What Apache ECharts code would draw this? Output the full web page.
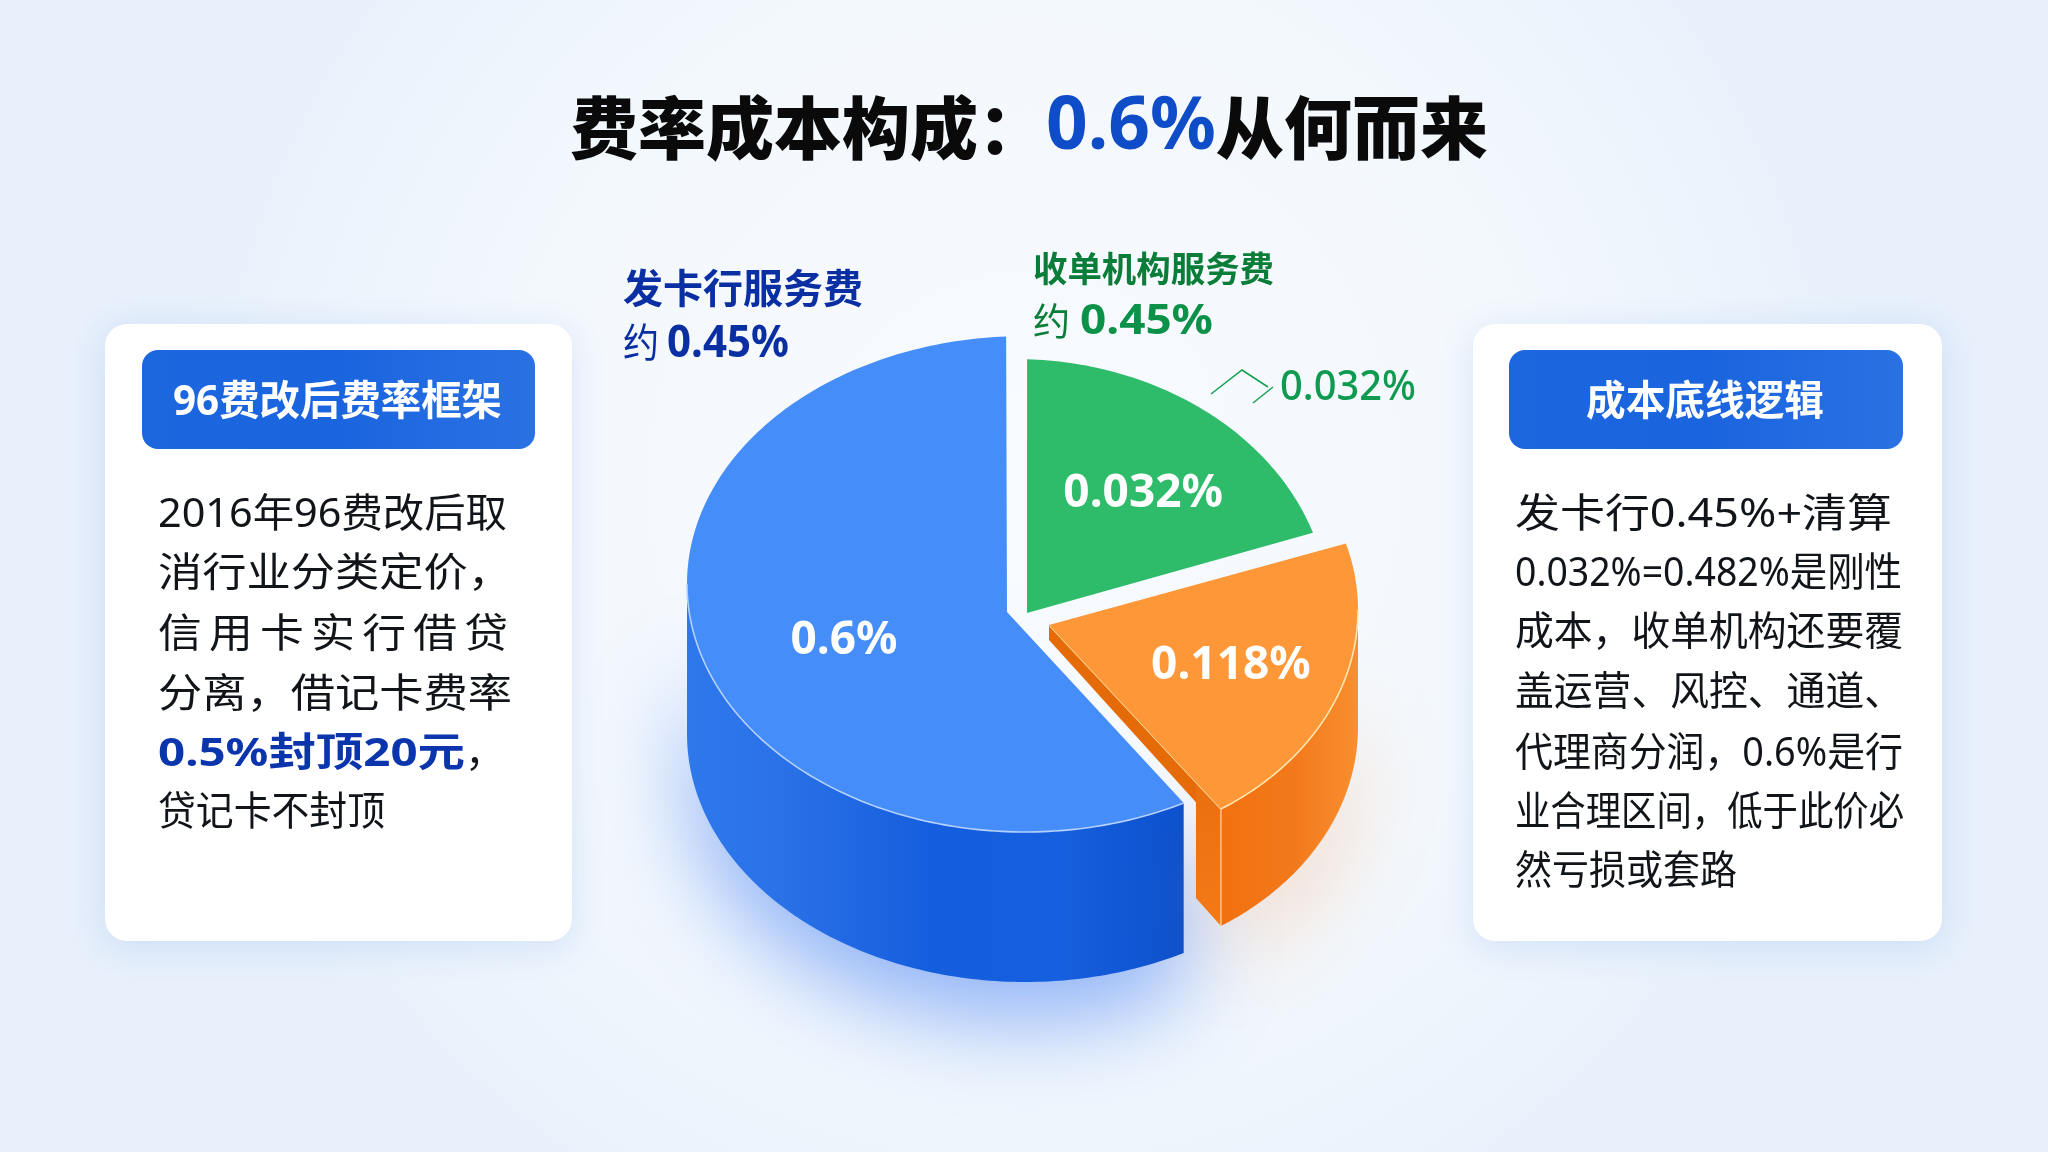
<!DOCTYPE html>
<html><head><meta charset="utf-8">
<style>html,body{margin:0;padding:0;background:#eef4fc}#c{width:2048px;height:1152px}</style>
<script src="https://cdn.jsdelivr.net/npm/echarts@6/dist/echarts.min.js"></script>
</head><body><div id="c"></div>
<script>
// ---- data ----
const categories = ['发卡行服务费', '收单机构服务费', '清算及其他'];
const sliceValues = [0.6, 0.032, 0.118];           // printed on the slices, in %
const sliceSweeps = [204.8, 69.4, 73.4];           // drawn size of each slice, degrees
const sliceGaps = [5.4, 2.1, 4.9];                 // drawn gap after each slice, degrees
const issuerLabel = ['发卡行服务费', '约', '0.45%'];
const acquirerLabel = ['收单机构服务费', '约', '0.45%'];
const calloutLabel = '0.032%';
const leftHeader = '96费改后费率框架';
const rightHeader = '成本底线逻辑';
const leftLines = ['2016年96费改后取', '消行业分类定价，', '信\u2009用\u2009卡\u2009实\u2009行\u2009借\u2009贷', '分离，借记卡费率', '0.5%封顶20元', '贷记卡不封顶'];
const rightLines = ['发卡行0.45%+清算', '0.032%=0.482%是刚性', '成本，收单机构还要覆', '盖运营、风控、通道、', '代理商分润，0.6%是行', '业合理区间，低于此价必', '然亏损或套路'];

// ---- layout ----
const FONT = '"Noto Sans","Noto Sans CJK SC",sans-serif';
const BASE_ANGLE = 152;
const geo = [
  {cx:1025,cy:584,rx:338,ry:248,ax:1007,ay:612,depth:150,top:'#458df9',f:0.556,ldy:20,rim:'#b4d0fd'},
  {cx:1015,cy:613,rx:314,ry:254,ax:1027,ay:613,depth:0,top:'#2fbc6a',f:0.68,ldy:19},
  {cx:1058,cy:610,rx:300,ry:237,ax:1049,ay:625,depth:117,top:'#fd9737',f:0.615,ldy:5,rim:'#ffe6ae'}
];
const sideFill = [
  new echarts.graphic.LinearGradient(0,0,1,0,[{offset:0,color:'#2f78ec'},{offset:.2,color:'#2a71e7'},{offset:.5,color:'#145ddd'},{offset:.75,color:'#165fde'},{offset:1,color:'#0b50cd'}]),
  null,
  new echarts.graphic.LinearGradient(0,0,1,0,[{offset:0,color:'#f2700f'},{offset:.55,color:'#f27a1c'},{offset:1,color:'#f98f30'}])
];
const sideShadow = ['rgba(45,110,240,.5)', null, 'rgba(240,130,50,.25)'];

const starts = [];
sliceSweeps.reduce((a, s, i) => { starts[i] = a % 360; return a + s + sliceGaps[i]; }, BASE_ANGLE);

function onEllipse(g, deg, dy) {
  const r = deg * Math.PI / 180;
  return [g.cx + g.rx * Math.sin(r), g.cy - g.ry * Math.cos(r) + (dy || 0)];
}
function arc(g, a0, a1, dy) {
  const pts = [], n = Math.max(2, Math.ceil(Math.abs(a1 - a0)));
  for (let k = 0; k <= n; k++) pts.push(onEllipse(g, a0 + (a1 - a0) * k / n, dy));
  return pts;
}
function renderSlice(params, api) {
  const i = params.dataIndex, g = geo[i];
  const sweep = api.value(1), val = api.value(2);
  const a0 = starts[i], a1 = a0 + sweep, kids = [];
  // extruded outer wall: only the part of the rim that faces the viewer
  const s0 = Math.max(a0, 90), s1 = Math.min(a1, 270);
  if (g.depth && s1 > s0) {
    const up = arc(g, s0, s1), down = arc(g, s1, s0, g.depth);
    kids.push({type:'polygon', shape:{points:up.concat(down)},
      style:{fill:sideFill[i], shadowBlur:90, shadowOffsetY:40, shadowColor:sideShadow[i]}});
  }
  const arcPts = arc(g, a0, a1);
  if (i === 2) { // orange inner wall seen through the gap
    const B = arcPts[arcPts.length - 1], A = [g.ax, g.ay];
    const cut = B[0] - 25, yOn = A[1] + (B[1] - A[1]) * (cut - A[0]) / (B[0] - A[0]);
    kids.push({type:'polygon', shape:{points:[A, B, [cut, yOn + 20], [A[0], A[1] + 15]]}, style:{fill:'#e56a08'}});
    kids.push({type:'polygon', shape:{points:[[cut, yOn + 20], [cut, yOn], B, [B[0], B[1] + g.depth], [cut, B[1] + g.depth - 28]]},
      style:{fill:new echarts.graphic.LinearGradient(0,0,0,1,[{offset:0,color:'#e96f10'},{offset:1,color:'#f47a18'}])}});
    kids.push({type:'polyline', shape:{points:[B, [B[0], B[1] + g.depth]]}, style:{stroke:'#ffd9a0', lineWidth:1.2, fill:null}});
    kids.push({type:'polyline', shape:{points:[A, B]}, style:{stroke:'#ffe6ae', lineWidth:1.4, fill:null}});
  }
  kids.push({type:'polygon', shape:{points:[[g.ax, g.ay]].concat(arcPts)}, style:{fill:g.top}});
  if (g.rim && s1 > s0) kids.push({type:'polyline', shape:{points:arc(g, s0, s1)}, style:{stroke:g.rim, lineWidth:1.6, fill:null}});
  const p = onEllipse({cx:g.cx, cy:g.cy, rx:g.rx * g.f, ry:g.ry * g.f}, a0 + sweep / 2, g.ldy);
  kids.push({type:'text', x:p[0], y:p[1], style:{text:val + '%', fill:'#fff', font:'700 46px ' + FONT, align:'center', verticalAlign:'middle'}});
  return {type:'group', children:kids};
}

// ---- text helpers: fit a real text line to the width it has in the picture ----
const mctx = document.createElement('canvas').getContext('2d');
const TEXT_DY = 4;
function line(text, x, y, width, font, fill) {
  mctx.font = font;
  const w = mctx.measureText(text).width;
  return {type:'text', x:x, y:y + TEXT_DY, scaleX: width ? width / w : 1,
    style:{text:text, x:0, y:0, font:font, fill:fill, align:'left', verticalAlign:'middle'}};
}
function panel(x, y, w, h) {
  return {type:'rect', shape:{x:x, y:y, width:w, height:h, r:22},
    style:{fill:'#fff', shadowBlur:34, shadowOffsetY:6, shadowColor:'rgba(70,125,225,.16)'}};
}
function header(x, y, w, h, text, tx, tw) {
  return [{type:'rect', shape:{x:x, y:y, width:w, height:h, r:16},
      style:{fill:new echarts.graphic.LinearGradient(0,0,1,0,[{offset:0,color:'#1c66de'},{offset:.5,color:'#1a64df'},{offset:1,color:'#2a72e3'}])}},
    line(text, tx, y + h / 2, tw, '700 41px ' + FONT, '#fff')];
}
const BODY = '400 40px ' + FONT, INK = '#111418';
const leftW = [349, 354, 350, 354, 307, 227], leftY = [512, 571, 632, 692, 751, 810];
const rightW = [377, 387, 388, 388, 388, 389, 222], rightY = [512, 571, 630, 690, 751, 810, 869];
const leftText = leftLines.map((t, i) => line(t, 158, leftY[i], leftW[i], i === 4 ? '700 40px ' + FONT : BODY, i === 4 ? '#0b35ad' : INK));
leftText.push(line('，', 465, 751, 0, BODY, INK));
const rightText = rightLines.map((t, i) => line(t, 1515, rightY[i], rightW[i], BODY, INK));

const DARKBLUE = '#0a2fa3', GREEN = '#0a7d38';
const graphics = [
  panel(105, 324, 467, 617), panel(1473, 324, 469, 617),
  ...header(142, 350, 393, 99, leftHeader, 173, 329),
  ...header(1509, 350, 394, 99, rightHeader, 1586, 238),
  ...leftText, ...rightText,
  line(issuerLabel[0], 623, 288, 240, '700 40px ' + FONT, DARKBLUE),
  line(issuerLabel[1], 623, 342, 36, '400 40px ' + FONT, DARKBLUE),
  line(issuerLabel[2], 667, 340, 122, '700 44px ' + FONT, DARKBLUE),
  line(acquirerLabel[0], 1033, 268, 241, '700 35px ' + FONT, GREEN),
  line(acquirerLabel[1], 1033, 320, 37, '400 38px ' + FONT, GREEN),
  line(acquirerLabel[2], 1080, 318, 133, '700 42px ' + FONT, '#0c9149'),
  {type:'polyline', shape:{points:[[1211,394],[1242,370],[1268,387]]}, style:{stroke:'#12a050', lineWidth:1.5, fill:null}},
  {type:'polyline', shape:{points:[[1273,387],[1253,403]]}, style:{stroke:'#12a050', lineWidth:1.5, fill:null}},
  line(calloutLabel, 1280, 384, 136, '500 42px ' + FONT, '#0e9a4f')
];

const chart = echarts.init(document.getElementById('c'), null, {renderer:'canvas', width:2048, height:1152});
chart.setOption({
  animation:false,
  backgroundColor:new echarts.graphic.RadialGradient(.5,.42,.75,[{offset:0,color:'#f8fbff'},{offset:.6,color:'#f3f8fd'},{offset:1,color:'#e7f0fb'}]),
  title:{left:1024, top:77, textAlign:'center', text:'{a|费率成本构成：}{b|0.6%}{a|从何而来}',
    textStyle:{rich:{
      a:{fontSize:68, fontWeight:900, fontFamily:'"Noto Sans CJK SC"', color:'#0a0a0a', lineHeight:92},
      b:{fontSize:73, fontWeight:700, fontFamily:'"Noto Sans"', color:'#0f4cc8', lineHeight:92}}}},
  graphic:{elements:graphics},
  series:[{type:'custom', coordinateSystem:'none', silent:true, renderItem:renderSlice, clip:false,
    data:categories.map((c, i) => ({name:c, value:[i, sliceSweeps[i], sliceValues[i]]}))}]
});
</script></body></html>
